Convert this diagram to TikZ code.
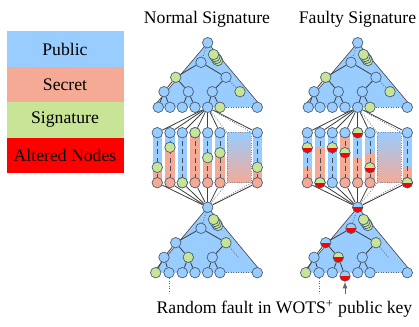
\documentclass[tikz,border=0pt]{standalone}
\usepackage{fontspec}
\setmainfont{Liberation Serif}
\usetikzlibrary{arrows.meta}
\definecolor{pubblue}{RGB}{153,204,255}
\definecolor{secred}{RGB}{245,170,150}
\definecolor{sigcol}{RGB}{200,228,150}
\definecolor{altred}{RGB}{255,0,0}
\definecolor{ndline}{RGB}{70,90,115}
\tikzset{
  nd/.style={circle, draw=ndline, line width=0.4pt, fill=pubblue, inner sep=0pt, minimum size=6.3pt},
  signd/.style={nd, fill=sigcol},
  altsig/.style={nd, fill=sigcol, path picture={\fill[altred] (path picture bounding box.west) rectangle (path picture bounding box.south east);}},
  altpub/.style={nd, path picture={\fill[altred] (path picture bounding box.west) rectangle (path picture bounding box.south east);}},
  edge/.style={black!75, line width=0.5pt},
  hidden/.style={black!60, densely dotted, line width=0.5pt},
  legbox/.style={rectangle, inner sep=0pt, minimum width=70.2pt, minimum height=21.3pt},
  gradbox/.style={rectangle, inner sep=0pt, minimum width=14.2pt, minimum height=30pt, top color=pubblue, bottom color=secred, draw=black!45, densely dotted, line width=0.4pt},
}
\begin{document}
\begin{tikzpicture}[x=0.6pt, y=-0.6pt, font=\fontsize{10.6pt}{12pt}\selectfont]
\useasboundingbox (0,0) rectangle (419,326);

% legend
\node[legbox, fill=pubblue] (leg-pub) at (65,49) {Public};
\node[legbox, fill=secred] (leg-sec) at (65,84.5) {Secret};
\node[legbox, fill=sigcol] (leg-sig) at (65,120) {Signature};
\node[legbox, fill=altred] (leg-alt) at (65,155.5) {Altered Nodes};

\node (ttl-n) at (207,19) {Normal Signature};
\node (ttl-f) at (357.5,19) {Faulty Signature};

% upper trees
\foreach \dx/\p in {0/n,150/f}{
\begin{scope}[shift={(\dx,0)}, name prefix=\p-]
  \fill[pubblue] (207.7,42.7) -- (153,107.3) -- (262,107.3) -- cycle;
  \draw[black!70, line width=0.4pt] (153,107.3) -- (207.7,42.7) -- (262,107.3);
  \foreach \k in {3,2,1,0}
    \filldraw[fill=sigcol, draw=ndline, line width=0.4pt] (213.5+1.4*\k,54.5+2*\k) circle[radius=3.15pt];
  \node[nd] (r) at (207.7,42.7) {};
  \node[nd] (a) at (201,62.3) {};
  \node[signd] (b) at (175.7,77.3) {};
  \node[nd] (c) at (226,77.3) {};
  \node[nd] (d) at (164,91.7) {};
  \node[nd] (e) at (188.3,91.7) {};
  \node[nd] (f) at (212.3,91.7) {};
  \node[signd] (g) at (240,91.7) {};
  \node[nd] (l1) at (158.3,107.3) {};
  \node[nd] (l2) at (170,107.3) {};
  \node[nd] (l3) at (182.3,107.3) {};
  \node[nd] (l4) at (195,107.3) {};
  \node[nd] (h) at (207.7,107.3) {};
  \node[signd] (l6) at (220,107.3) {};
  \node[nd] (l7) at (257.3,107.3) {};
  \draw[hidden] (r) -- (a);
  \draw[edge] (a) -- (b);
  \draw[edge] (a) -- (c);
  \draw[edge] (b) -- (d);
  \draw[edge] (b) -- (e);
  \draw[edge] (c) -- (f);
  \draw[hidden] (c) -- (g);
  \draw[edge] (d) -- (l1);
  \draw[edge] (d) -- (l2);
  \draw[edge] (e) -- (l3);
  \draw[edge] (e) -- (l4);
  \draw[edge] (f) -- (h);
  \draw[edge] (f) -- (l6);
  \draw[hidden] (l6) -- (l7);
\end{scope}}

% lower tree, normal
\begin{scope}[name prefix=n-]
  \fill[pubblue] (207.7,207.3) -- (153,272.7) -- (262,272.7) -- cycle;
  \draw[black!70, line width=0.4pt] (153,272.7) -- (207.7,207.3) -- (262,272.7);
  \foreach \k in {3,2,1,0}
    \filldraw[fill=sigcol, draw=ndline, line width=0.4pt] (213.5+1.4*\k,219.5+2*\k) circle[radius=3.15pt];
  \node[nd] (r2) at (207.7,207.3) {};
  \node[nd] (a2) at (201,228.3) {};
  \node[nd] (b2) at (175.7,242.7) {};
  \node[signd] (c2) at (226,242.7) {};
  \node[nd] (d2) at (164,257.3) {};
  \node[signd] (e2) at (188.3,257.3) {};
  \node[nd] (f2) at (212.3,257.3) {};
  \coordinate (g2) at (238.3,257.3);
  \node[signd] (m1) at (155.7,272.7) {};
  \node[nd] (m2) at (169,272.7) {};
  \node[nd] (m3) at (182.3,272.7) {};
  \node[nd] (m4) at (195,272.7) {};
  \node[nd] (m5) at (207.7,272.7) {};
  \node[nd] (m6) at (220,272.7) {};
  \node[nd] (m7) at (257.3,272.7) {};
  \coordinate (below) at (169,293.3);
\end{scope}

% lower tree, faulty
\begin{scope}[shift={(150,0)}, name prefix=f-]
  \fill[pubblue] (207.7,207.3) -- (153,272.7) -- (262,272.7) -- cycle;
  \draw[black!70, line width=0.4pt] (153,272.7) -- (207.7,207.3) -- (262,272.7);
  \foreach \k in {3,2,1,0}
    \filldraw[fill=sigcol, draw=ndline, line width=0.4pt] (213.5+1.4*\k,219.5+2*\k) circle[radius=3.15pt];
  \node[altpub] (r2) at (207.7,207.3) {};
  \node[altpub] (a2) at (201,228.3) {};
  \node[altpub] (b2) at (175.7,242.7) {};
  \node[signd] (c2) at (226,242.7) {};
  \node[nd] (d2) at (164,257.3) {};
  \node[altsig] (e2) at (188.3,257.3) {};
  \node[nd] (f2) at (212.3,257.3) {};
  \coordinate (g2) at (238.3,257.3);
  \node[signd] (m1) at (155.7,272.7) {};
  \node[nd] (m2) at (169,272.7) {};
  \node[nd] (m3) at (182.3,272.7) {};
  \node[altpub] (m4) at (195,276) {};
  \node[nd] (m5) at (207.7,272.7) {};
  \node[nd] (m6) at (220,272.7) {};
  \node[nd] (m7) at (257.3,272.7) {};
  \coordinate (below) at (169,293.3);
\end{scope}

\foreach \p in {n,f}{
  \draw[hidden] (\p-r2) -- (\p-a2);
  \draw[edge] (\p-a2) -- (\p-b2);
  \draw[edge] (\p-a2) -- (\p-c2);
  \draw[edge] (\p-b2) -- (\p-d2);
  \draw[edge] (\p-b2) -- (\p-e2);
  \draw[edge] (\p-c2) -- (\p-f2);
  \draw[hidden] (\p-c2) -- (\p-g2);
  \draw[edge] (\p-d2) -- (\p-m1);
  \draw[edge] (\p-d2) -- (\p-m2);
  \draw[edge] (\p-e2) -- (\p-m3);
  \draw[edge] (\p-e2) -- (\p-m4);
  \draw[edge] (\p-f2) -- (\p-m5);
  \draw[edge] (\p-f2) -- (\p-m6);
  \draw[hidden] (\p-m6) -- (\p-m7);
  \draw[hidden] (\p-m2) -- (\p-below);
}

% WOTS+ chains
\foreach \x/\s/\m/\bc [count=\i] in {157.3/167.3/147.7/secred, 170/147.3/182.7/secred, 182.3/182.7/147.7/pubblue, 195/132.7/152.7/secred, 207.7/157.7/132.7/secred, 220/152.7/167.7/secred, 257.3/167.3/182.7/secred}{
  \foreach \dx/\p in {0/n,150/f}{
    \fill[pubblue] (\x+\dx-4.6,132.7) rectangle (\x+\dx+4.6,\s);
    \fill[secred] (\x+\dx-4.6,\s) rectangle (\x+\dx+4.6,182.7);
    \draw[black!70, densely dashed, line width=0.45pt] (\x+\dx,132.7) -- (\x+\dx,182.7);
    \node[nd] (\p-t\i) at (\x+\dx,132.7) {};
    \node[nd, fill=\bc] (\p-b\i) at (\x+\dx,182.7) {};
    \draw[edge] (\p-h) -- (\p-t\i);
    \draw[edge] (\p-b\i) -- (\p-r2);
  }
  \node[signd] (n-s\i) at (\x,\s) {};
  \node[altsig] (f-s\i) at (\x+150,\m) {};
}
\foreach \dx/\p in {0/n,150/f}{
  \node[gradbox] (\p-g) at (239.2+\dx,157.7) {};
  \draw[hidden] (\p-h) -- (\p-g.north west);
  \draw[hidden] (\p-h) -- (\p-g.north east);
  \draw[hidden] (\p-g.south west) -- (\p-r2);
  \draw[hidden] (\p-g.south east) -- (\p-r2);
}

\node (lbl) at (284.5,309) {Random fault in WOTS\textsuperscript{+} public key};
\draw[-{Latex[length=4pt,width=3pt]}, black!60, line width=0.6pt] (lbl.north -| f-m4) -- (f-m4);
\end{tikzpicture}
\end{document}
